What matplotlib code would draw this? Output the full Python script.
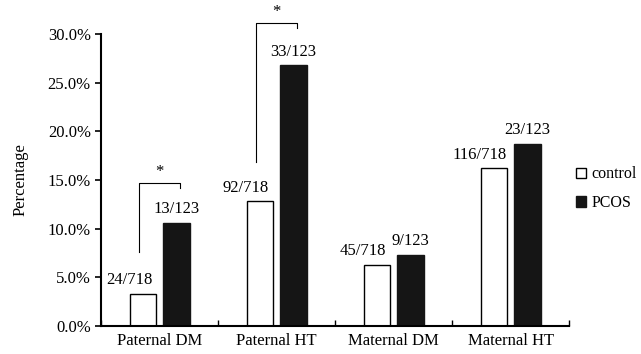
import matplotlib.pyplot as plt
import numpy as np

plt.rcParams['font.family'] = ['Liberation Serif', 'DejaVu Serif']

categories = ['Paternal DM', 'Paternal HT', 'Maternal DM', 'Maternal HT']
control_pct = [3.3, 12.8, 6.3, 16.2]
pcos_pct = [10.6, 26.8, 7.3, 18.7]
control_lbl = ['24/718', '92/718', '45/718', '116/718']
pcos_lbl = ['13/123', '33/123', '9/123', '23/123']
# significance brackets: (category index, bottom of left leg, top)
sig = [(0, 7.6, 14.7), (1, 16.9, 31.1)]

fig = plt.figure(figsize=(6.41, 3.54), dpi=100)
ax = fig.add_axes([0.158, 0.079, 0.73, 0.825])

x = np.arange(len(categories))
w = 0.23
off = 0.143
ax.bar(x - off, control_pct, w, color='white', edgecolor='black', linewidth=1, label='control')
ax.bar(x + off, pcos_pct, w, color='#151515', edgecolor='#151515', linewidth=1, label='PCOS')

fs = 12
for i in range(len(categories)):
    ax.annotate(control_lbl[i], (x[i] - off - 0.12, control_pct[i]), xytext=(0, 4),
                textcoords='offset points', ha='center', va='bottom', fontsize=fs)
    ax.annotate(pcos_lbl[i], (x[i] + off, pcos_pct[i]), xytext=(0, 4),
                textcoords='offset points', ha='center', va='bottom', fontsize=fs)

for i, lo, hi in sig:
    xl, xr = x[i] - 0.175, x[i] + 0.175
    ax.plot([xl, xl, xr, xr], [lo, hi, hi, hi - 0.5], color='black', lw=0.8, clip_on=False)
    ax.text(x[i], hi + 0.3, '*', ha='center', va='bottom', fontsize=12)

ax.set_xlim(-0.5, 3.5)
ax.set_ylim(0, 30)
ax.set_yticks(np.arange(0, 31, 5))
ax.set_yticklabels(['%.1f%%' % v for v in np.arange(0, 31, 5)], fontsize=fs)
ax.set_xticks(np.arange(-0.5, 3.6, 1))
ax.set_xticklabels([])
ax.set_xticks(x, minor=True)
ax.set_xticklabels(categories, minor=True, fontsize=fs)
ax.tick_params(axis='x', which='major', direction='in', length=4, width=1)
ax.tick_params(axis='x', which='minor', length=0, pad=5)
ax.tick_params(axis='y', direction='out', length=4, width=1.2)
ax.set_ylabel('Percentage', fontsize=fs, labelpad=14)

for s in ['top', 'right']:
    ax.spines[s].set_visible(False)
ax.spines['left'].set_linewidth(1.5)
ax.spines['bottom'].set_linewidth(1.5)

ax.legend(loc='center left', bbox_to_anchor=(1.015, 0.47), frameon=False, fontsize=11.5,
          borderpad=0, borderaxespad=0,
          handlelength=0.6, handleheight=0.6, handletextpad=0.35, labelspacing=0.8)

fig.savefig('out.png', dpi=100)
